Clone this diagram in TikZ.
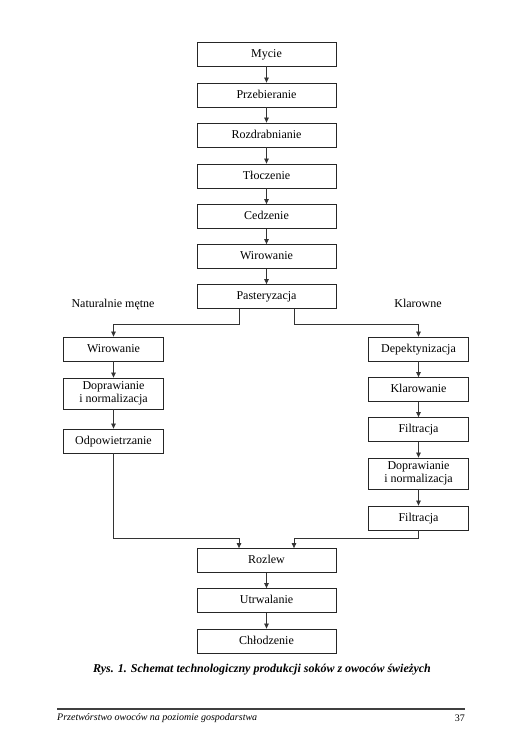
\documentclass[tikz,border=0pt]{standalone}
\usepackage{fontspec}
\setmainfont{Liberation Serif}
\usetikzlibrary{arrows.meta}
\begin{document}
\begin{tikzpicture}[x=1pt,y=-1pt,
  box/.style={draw=black!85,line width=0.8pt,minimum height=24pt,inner sep=0pt,align=center,font=\fontsize{12}{12.5}\selectfont},
  onebox/.style={box,text height=8.5pt,text depth=2.5pt},
  mainbox/.style={onebox,minimum width=139pt},
  sidebox/.style={onebox,minimum width=100pt},
  tallbox/.style={box,minimum width=100pt,minimum height=31pt},
  arr/.style={draw=black!80,line width=0.7pt,-{Triangle[length=5pt,width=4.5pt]}},
  lbl/.style={font=\fontsize{12}{14}\selectfont,anchor=base,inner sep=0pt}]
\useasboundingbox (0,0) rectangle (531,750);
\fill[white] (0,0) rectangle (531,750);
% main column
\node[mainbox] (m1) at (266.5,54) {Mycie};
\node[mainbox] (m2) at (266.5,95) {Przebieranie};
\node[mainbox] (m3) at (266.5,135) {Rozdrabnianie};
\node[mainbox] (m4) at (266.5,176) {Tłoczenie};
\node[mainbox] (m5) at (266.5,216.5) {Cedzenie};
\node[mainbox] (m6) at (266.5,256.5) {Wirowanie};
\node[mainbox] (m7) at (266.5,296.5) {Pasteryzacja};
% labels
\node[lbl] (ln) at (113,307) {Naturalnie mętne};
\node[lbl] (lk) at (418,307) {Klarowne};
% left column
\node[sidebox] (l1) at (113.5,349) {Wirowanie};
\node[tallbox] (l2) at (113.5,393.5) {Doprawianie\\i normalizacja};
\node[sidebox] (l3) at (113.5,441) {Odpowietrzanie};
% right column
\node[sidebox] (r1) at (418.5,349) {Depektynizacja};
\node[sidebox] (r2) at (418.5,389.5) {Klarowanie};
\node[sidebox] (r3) at (418.5,429.5) {Filtracja};
\node[tallbox] (r4) at (418.5,473.5) {Doprawianie\\i normalizacja};
\node[sidebox] (r5) at (418.5,518) {Filtracja};
% bottom
\node[mainbox] (b1) at (266.5,560.5) {Rozlew};
\node[mainbox] (b2) at (266.5,600.5) {Utrwalanie};
\node[mainbox] (b3) at (266.5,641) {Chłodzenie};
% arrows main
\draw[arr] (m1) -- (m2);
\draw[arr] (m2) -- (m3);
\draw[arr] (m3) -- (m4);
\draw[arr] (m4) -- (m5);
\draw[arr] (m5) -- (m6);
\draw[arr] (m6) -- (m7);
% branches
\draw[arr] ([xshift=-27.5pt]m7.south) |- ([yshift=12pt]l1.north) -- (l1.north);
\draw[arr] ([xshift=27.5pt]m7.south) |- ([yshift=12pt]r1.north) -- (r1.north);
\draw[arr] (l1) -- (l2);
\draw[arr] (l2) -- (l3);
\draw[arr] (r1) -- (r2);
\draw[arr] (r2) -- (r3);
\draw[arr] (r3) -- (r4);
\draw[arr] (r4) -- (r5);
% merge
\draw[arr] (l3.south) |- ([xshift=-27.5pt,yshift=10pt]b1.north) -- ([xshift=-27.5pt]b1.north);
\draw[arr] (r5.south) |- ([xshift=27.5pt,yshift=10pt]b1.north) -- ([xshift=27.5pt]b1.north);
\draw[arr] (b1) -- (b2);
\draw[arr] (b2) -- (b3);
% caption
\node[font=\fontsize{12}{14}\selectfont\bfseries\itshape] (cap) at (262,670) {Rys. 1. Schemat technologiczny produkcji soków z owoców świeżych};
\coordinate (fl) at (57,709);
\coordinate (fr) at (465,709);
\draw[line width=1.4pt,black!75] (fl) -- (fr);
\node[font=\fontsize{10}{12}\selectfont\itshape,anchor=west,inner sep=0pt] (foot) at (57,718) {Przetwórstwo owoców na poziomie gospodarstwa};
\node[font=\fontsize{10}{12}\selectfont,anchor=east,inner sep=0pt] (pg) at (465,718) {37};
\end{tikzpicture}
\end{document}
